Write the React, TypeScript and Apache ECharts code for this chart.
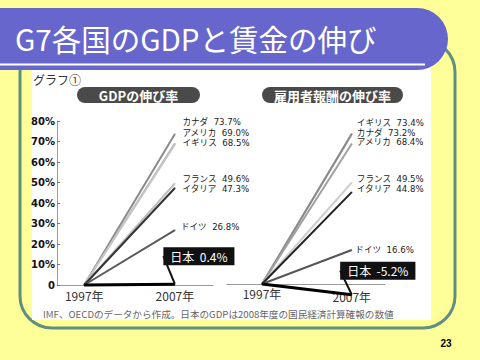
import React, { useEffect, useRef } from "react";
import * as echarts from "echarts";

const years = [1997, 2007];
const gdpCountries = ["カナダ", "アメリカ", "イギリス", "フランス", "イタリア", "ドイツ", "日本"];
const gdpGrowth = [73.7, 69.0, 68.5, 49.6, 47.3, 26.8, 0.4];
const wageCountries = ["イギリス", "カナダ", "アメリカ", "フランス", "イタリア", "ドイツ", "日本"];
const wageGrowth = [73.4, 73.2, 68.4, 49.5, 44.8, 16.6, -5.2];
const yTickValues = [0, 10, 20, 30, 40, 50, 60, 70, 80];

// styles (not data)
const gdpColors = ["#8a8a8a", "#aaaaaa", "#c6c6c6", "#bdbdbd", "#333333", "#5a5a5a", "#000000"];
const wageColors = ["#bcbcbc", "#8a8a8a", "#a0a0a0", "#cfcfcf", "#222222", "#555555", "#000000"];
const gdpLabelDy = [-12, -11, -2, -4, 1.3, -3.3, 0];
const wageLabelDy = [-10.5, -1.3, -2, -3.2, -2.7, 0, 0];

const FONT = "'Noto Sans CJK JP', 'Noto Sans', sans-serif";
const LABEL_FONT = "'DejaVu Sans', 'Noto Sans CJK JP', sans-serif";

function buildSeries(
  names: string[],
  values: number[],
  colors: string[],
  dys: number[],
  idx: number,
  dist: number,
  jpShift: number[]
) {
  return names.map((name, i) => {
    const isJapan = name === "日本";
    const endLabel = isJapan
      ? {
          show: true,
          position: "inside",
          formatter: () => `${name}  ${values[i].toFixed(1)}%`,
          color: "#ffffff",
          backgroundColor: "#111111",
          padding: [3, 7],
          fontSize: 12,
          fontFamily: FONT,
        }
      : {
          show: true,
          position: "right",
          distance: name === "ドイツ" ? dist - 1.5 : dist,
          offset: [0, dys[i]],
          formatter: () => `${name}  ${values[i].toFixed(1)}%`,
          color: "#222222",
          fontSize: 8.6,
          fontFamily: LABEL_FONT,
        };
    const s: any = {
      type: "line",
      name,
      xAxisIndex: idx,
      yAxisIndex: idx,
      symbol: "circle",
      symbolSize: 1,
      clip: false,
      itemStyle: { color: colors[i] },
      lineStyle: { color: colors[i], width: isJapan ? 3 : 2 },
      z: isJapan ? 5 : 3,
      data: [
        [years[0], 0],
        { value: [years[1], values[i]], label: endLabel },
      ],
    };
    if (isJapan) {
      s.labelLayout = { dx: jpShift[0], dy: jpShift[1] };
      s.labelLine = { show: true, lineStyle: { color: "#111", width: 2 } };
    }
    return s;
  });
}

export default function App() {
  const ref = useRef<HTMLDivElement>(null);
  useEffect(() => {
    if (!ref.current) return;
    const chart = echarts.init(ref.current, null, { renderer: "svg" });
    const option: any = {
      animation: false,
      backgroundColor: "#FFFF99",
      grid: [
        { left: 57, right: 267, top: 121, bottom: 75 },
        { left: 227, right: 95, top: 120, bottom: 76 },
      ],
      xAxis: [
        {
          type: "value",
          gridIndex: 0,
          min: 1994,
          max: 2011.2,
          splitLine: { show: false },
          axisTick: { show: false },
          axisLine: { lineStyle: { color: "#9a9a9a", width: 1 } },
          axisLabel: {
            customValues: years,
            formatter: (v: number) => `${v}年`,
            color: "#333",
            fontSize: 12,
            fontFamily: FONT,
            margin: 4,
          },
        },
        {
          type: "value",
          gridIndex: 1,
          min: 1993.1,
          max: 2010.7,
          splitLine: { show: false },
          axisTick: { show: false },
          axisLine: { lineStyle: { color: "#9a9a9a", width: 1 } },
          axisLabel: {
            customValues: years,
            formatter: (v: number) => (v === years[1] ? `{b|${v}年}` : `${v}年`),
            color: "#333",
            fontSize: 12,
            fontFamily: FONT,
            margin: 3,
            rich: { b: { padding: [7, 0, 0, 0], fontSize: 12, lineHeight: 12, color: "#333", fontFamily: FONT } },
          },
        },
      ],
      yAxis: [
        {
          type: "value",
          gridIndex: 0,
          min: 0,
          max: 80,
          interval: 10,
          splitLine: { show: false },
          axisLine: { show: true, lineStyle: { color: "#9a9a9a" } },
          axisTick: { show: true, inside: true, length: 3, lineStyle: { color: "#777" } },
          axisLabel: {
            customValues: yTickValues,
            formatter: (v: number) => (v === 0 ? "0" : `${v}%`),
            color: "#111",
            fontWeight: "bold",
            fontSize: 10,
            fontFamily: "'DejaVu Sans', sans-serif",
            margin: 2,
          },
        },
        {
          type: "value",
          gridIndex: 1,
          min: 0,
          max: 80,
          show: false,
          splitLine: { show: false },
        },
      ],
      graphic: [
        {
          type: "rect",
          z: -10,
          shape: { x: 20, y: 40, width: 435, height: 288, r: 32 },
          style: { fill: "#FFFF99", stroke: "#5f8f80", lineWidth: 3 },
        },
        {
          type: "rect",
          z: -9,
          shape: { x: 32, y: 68, width: 399, height: 252 },
          style: { fill: "#ffffff" },
        },
        {
          type: "rect",
          z: -8,
          shape: { x: -20, y: 8, width: 468, height: 62, r: [0, 31, 31, 0] },
          style: { fill: "#6666CC" },
        },
        {
          type: "rect",
          z: -7,
          shape: { x: 0, y: 63.5, width: 425, height: 2 },
          style: { fill: "#ffffff" },
        },
        {
          type: "text",
          z: -6,
          x: 15,
          y: 38,
          style: {
            text: "G7各国のGDPと賃金の伸び",
            fill: "#ffffff",
            fontSize: 29.5,
            fontFamily: FONT,
            verticalAlign: "middle",
          },
        },
        {
          type: "text",
          z: -6,
          x: 33,
          y: 79,
          style: { text: "グラフ①", fill: "#333", fontSize: 12, fontFamily: FONT, verticalAlign: "middle" },
        },
        {
          type: "rect",
          z: -6,
          shape: { x: 77, y: 87, width: 123, height: 16, r: 8 },
          style: { fill: "#4a4a4a" },
        },
        {
          type: "text",
          z: -5,
          x: 138.5,
          y: 95,
          style: {
            text: "GDPの伸び率",
            fill: "#fff",
            fontSize: 13,
            fontWeight: "bold",
            fontFamily: FONT,
            align: "center",
            verticalAlign: "middle",
          },
        },
        {
          type: "rect",
          z: -6,
          shape: { x: 262, y: 87, width: 141, height: 16, r: 8 },
          style: { fill: "#4a4a4a" },
        },
        {
          type: "text",
          z: -5,
          x: 332.5,
          y: 95,
          style: {
            text: "雇用者報酬の伸び率",
            fill: "#fff",
            fontSize: 13,
            fontWeight: "bold",
            fontFamily: FONT,
            align: "center",
            verticalAlign: "middle",
          },
        },
        {
          type: "text",
          z: -5,
          x: 43,
          y: 313.5,
          style: {
            text: "IMF、OECDのデータから作成。日本のGDPは2008年度の国民経済計算確報の数値",
            fill: "#666",
            fontSize: 9.6,
            fontFamily: FONT,
            verticalAlign: "middle",
          },
        },
        {
          type: "text",
          z: -5,
          x: 446,
          y: 343,
          style: {
            text: "23",
            fill: "#000",
            fontSize: 10,
            fontWeight: "bold",
            fontFamily: "'Liberation Sans', Arial, sans-serif",
            align: "center",
            verticalAlign: "middle",
          },
        },
      ],
      series: [
        ...buildSeries(gdpCountries, gdpGrowth, gdpColors, gdpLabelDy, 0, 7, [24, -28]),
        ...buildSeries(wageCountries, wageGrowth, wageColors, wageLabelDy, 1, 4.5, [26, -24]),
      ],
    };
    chart.setOption(option);
    return () => chart.dispose();
  }, []);
  return <div ref={ref} style={{ position: "fixed", left: 0, top: 0, width: 480, height: 360 }} />;
}
